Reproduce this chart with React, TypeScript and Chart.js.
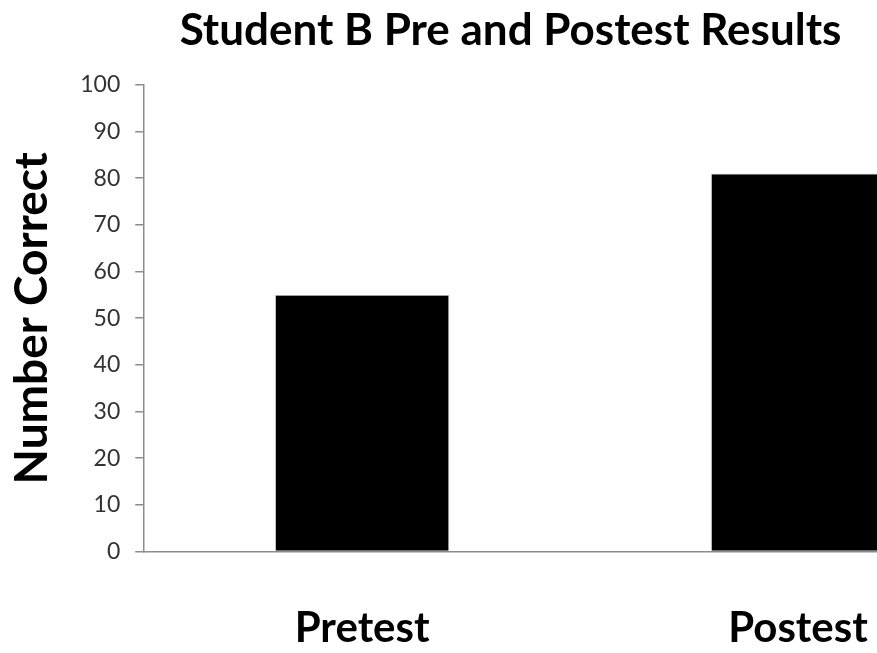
import React, { useEffect, useRef } from "react";
import { Chart, registerables } from "chart.js";

Chart.register(...registerables);

const categories: string[] = ["Pretest", "Postest"];
const scores: number[] = [55, 81];
const yMin = 0;
const yMax = 100;
const yStep = 10;
const chartTitle = "Student B Pre and Postest Results";
const yTitle = "Number Correct";

const FONT = "Lato, 'Open Sans', sans-serif";

export default function App() {
  const ref = useRef<HTMLCanvasElement | null>(null);

  useEffect(() => {
    if (!ref.current) return;
    const chart = new Chart(ref.current, {
      type: "bar",
      data: {
        labels: categories,
        datasets: [
          {
            data: scores,
            backgroundColor: "#000000",
            borderColor: "#c8c8c8",
            borderWidth: 1,
            categoryPercentage: 1,
            barPercentage: 0.4,
          },
        ],
      },
      options: {
        animation: false,
        responsive: false,
        devicePixelRatio: 1,
        layout: { padding: { top: 4, right: 8, bottom: -53, left: 5 } },
        plugins: {
          legend: { display: false },
          tooltip: { enabled: false },
          title: {
            display: true,
            text: chartTitle,
            color: "#000000",
            font: { family: FONT, size: 44, weight: "bold" },
            padding: { top: 0, bottom: 28 },
          },
        },
        scales: {
          x: {
            grid: { display: false, drawTicks: false },
            border: { display: true, color: "#8c8c8c", width: 1.5 },
            ticks: {
              color: "#000000",
              font: { family: FONT, size: 42, weight: "bold" },
              padding: 52,
              maxRotation: 0,
            },
          },
          y: {
            min: yMin,
            max: yMax,
            ticks: {
              stepSize: yStep,
              color: "#333333",
              font: { family: FONT, size: 23 },
              padding: 15,
            },
            grid: {
              display: true,
              drawOnChartArea: false,
              drawTicks: true,
              tickLength: 9,
              color: "#8c8c8c",
              lineWidth: 1.5,
            },
            border: { display: true, color: "#8c8c8c", width: 1.5 },
            title: {
              display: true,
              text: yTitle,
              color: "#000000",
              font: { family: FONT, size: 46, weight: "bold" },
              padding: { top: 0, bottom: 5 },
            },
          },
        },
      },
    });
    return () => chart.destroy();
  }, []);

  return (
    <div
      style={{
        position: "fixed",
        left: 0,
        top: 0,
        width: 877,
        height: 653,
        overflow: "hidden",
        background: "#ffffff",
      }}
    >
      <canvas ref={ref} width={1024} height={653} style={{ display: "block" }} />
    </div>
  );
}
